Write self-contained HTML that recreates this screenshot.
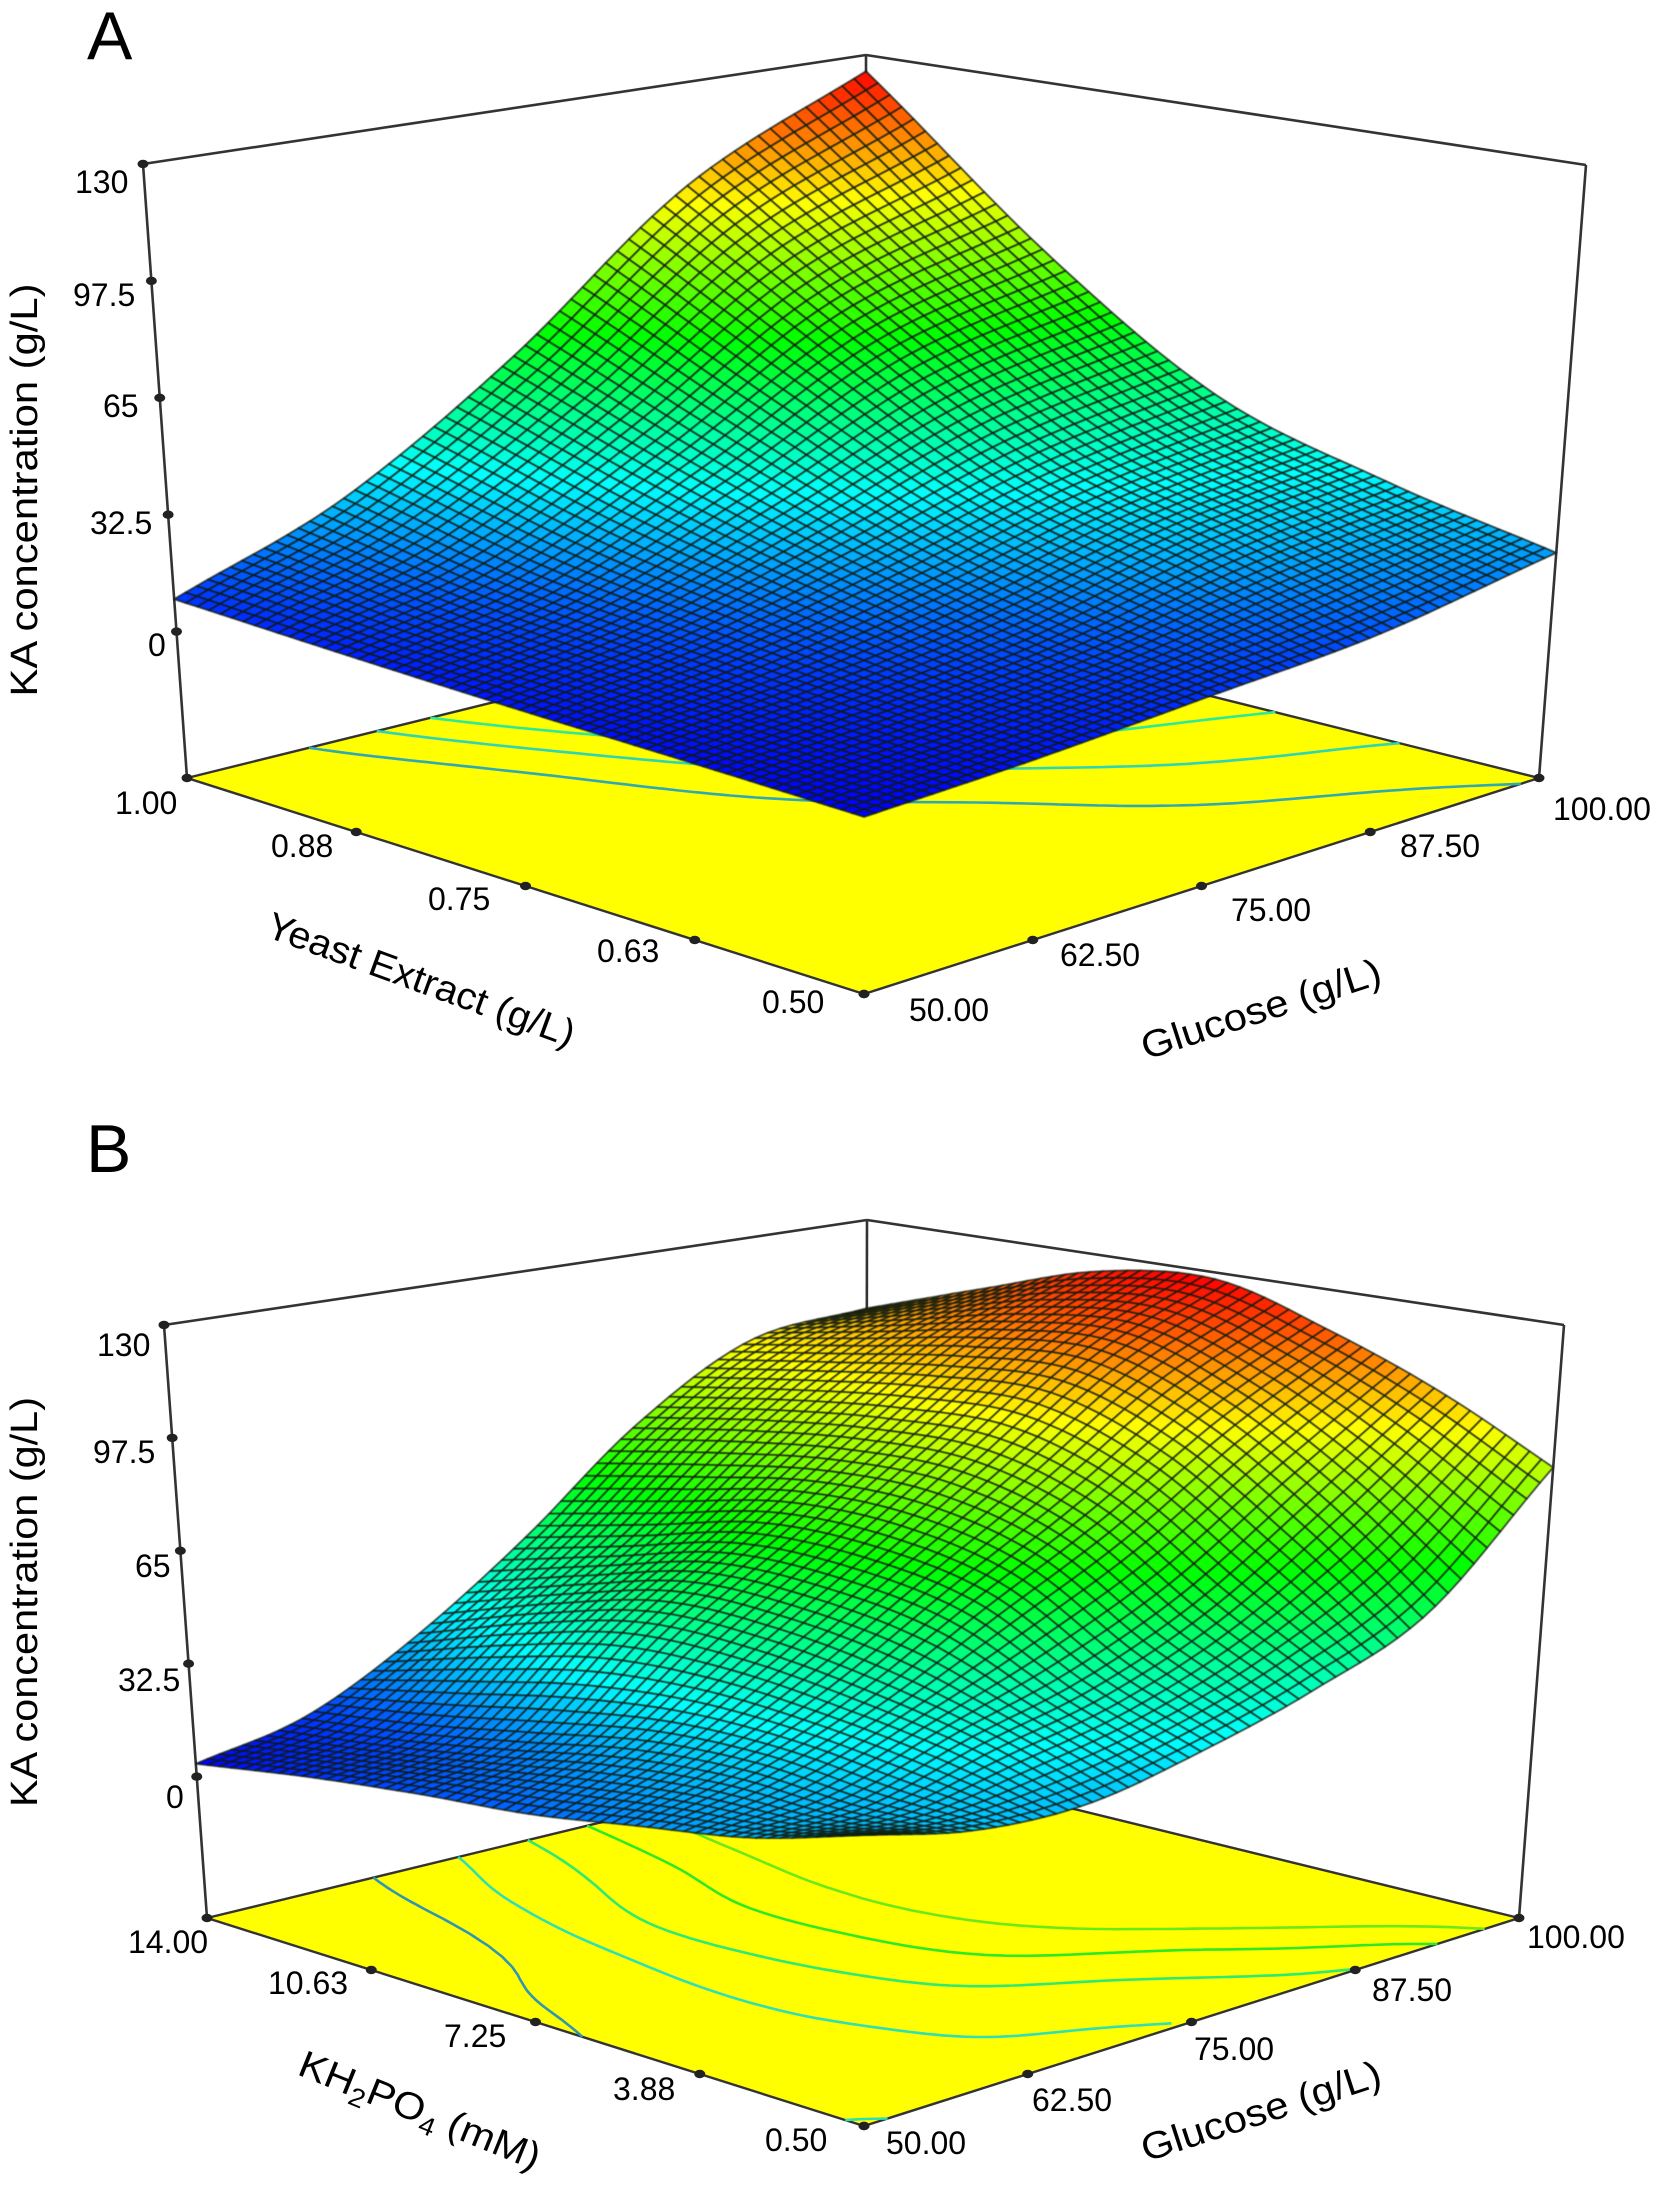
<!DOCTYPE html>
<html lang="en">
<head>
<meta charset="utf-8">
<title>KA concentration response surfaces</title>
<style>
  html, body { margin: 0; padding: 0; background: #fff; }
  svg { display: block; }
  text { font-family: "Liberation Sans", Arial, sans-serif; fill: #000; }
  .tick { font-size: 32px; }
  .title { font-size: 38px; }
  .letter { font-size: 68px; }
</style>
</head>
<body>
<svg id="figure" xmlns="http://www.w3.org/2000/svg" width="1657" height="2198" viewBox="0 0 1657 2198">
  <rect x="0" y="0" width="1657" height="2198" fill="#fff"/>

  <g id="panelA"></g>
  <g id="panelB"></g>

  <g>
    <text class="letter" x="87" y="59">A</text>
    <text class="title" transform="translate(37,490) rotate(-90)" text-anchor="middle" textLength="413" lengthAdjust="spacingAndGlyphs">KA concentration (g/L)</text>
    <text class="title" transform="translate(264,936) rotate(20)" textLength="325" lengthAdjust="spacingAndGlyphs">Yeast Extract (g/L)</text>
    <text class="title" transform="translate(1146,1060) rotate(-18)" textLength="250" lengthAdjust="spacingAndGlyphs">Glucose (g/L)</text>
    <text class="tick" x="75" y="193">130</text>
    <text class="tick" x="73" y="306">97.5</text>
    <text class="tick" x="103" y="417">65</text>
    <text class="tick" x="90" y="534">32.5</text>
    <text class="tick" x="148" y="656">0</text>
    <text class="tick" x="115" y="814">1.00</text>
    <text class="tick" x="271" y="857">0.88</text>
    <text class="tick" x="428" y="910">0.75</text>
    <text class="tick" x="597" y="962">0.63</text>
    <text class="tick" x="762" y="1013">0.50</text>
    <text class="tick" x="909" y="1021">50.00</text>
    <text class="tick" x="1060" y="966">62.50</text>
    <text class="tick" x="1231" y="921">75.00</text>
    <text class="tick" x="1400" y="857">87.50</text>
    <text class="tick" x="1553" y="820">100.00</text>
  </g>

  <g>
    <text class="letter" x="86" y="1172">B</text>
    <text class="title" transform="translate(37,1602) rotate(-90)" text-anchor="middle" textLength="410" lengthAdjust="spacingAndGlyphs">KA concentration (g/L)</text>
    <text class="title" transform="translate(296,2074) rotate(22) scale(1.09,1)">KH<tspan font-size="26" dy="8">2</tspan><tspan dy="-8">PO</tspan><tspan font-size="26" dy="8">4</tspan><tspan dy="-8"> (mM)</tspan></text>
    <text class="title" transform="translate(1146,2162) rotate(-18)" textLength="250" lengthAdjust="spacingAndGlyphs">Glucose (g/L)</text>
    <text class="tick" x="97" y="1356">130</text>
    <text class="tick" x="93" y="1463">97.5</text>
    <text class="tick" x="135" y="1577">65</text>
    <text class="tick" x="118" y="1691">32.5</text>
    <text class="tick" x="166" y="1808">0</text>
    <text class="tick" x="128" y="1953">14.00</text>
    <text class="tick" x="268" y="1994">10.63</text>
    <text class="tick" x="444" y="2047">7.25</text>
    <text class="tick" x="613" y="2100">3.88</text>
    <text class="tick" x="765" y="2151">0.50</text>
    <text class="tick" x="886" y="2154">50.00</text>
    <text class="tick" x="1032" y="2111">62.50</text>
    <text class="tick" x="1194" y="2060">75.00</text>
    <text class="tick" x="1372" y="2001">87.50</text>
    <text class="tick" x="1527" y="1948">100.00</text>
  </g>
</svg>

<script>
// ---- chart data ----
const zTicks = [0, 32.5, 65, 97.5, 130];
const glucoseTicks = [50, 62.5, 75, 87.5, 100];
const yeastTicks = [0.5, 0.625, 0.75, 0.875, 1.0];
const kh2po4Ticks = [0.5, 3.875, 7.25, 10.625, 14];

// Panel A: KA concentration; rows = yeast extract (low to high), columns = glucose (low to high)
const kaYeast050 = [3.3, 5.5, 9, 13, 22];
const kaYeast0625 = [4.5, 8, 14, 25, 32];
const kaYeast075 = [5.5, 12, 24, 38, 47];
const kaYeast0875 = [7, 17, 39, 66, 80];
const kaYeast100 = [9, 27, 58, 99, 125];
const contourLevelsA = [21, 30, 39];

// Panel B: KA concentration; rows = KH2PO4 (low to high), columns = glucose (low to high)
const kaKh050 = [34.5, 28, 27, 33, 42, 56, 89];
const kaKh275 = [26, 27, 36, 44, 58, 80, 105];
const kaKh500 = [21, 29, 42, 60, 78, 100, 118];
const kaKh725 = [16, 27, 46, 66, 88, 112, 128];
const kaKh950 = [13, 21, 46, 66, 88, 110, 125];
const kaKh1175 = [9, 15, 38, 58, 84, 104, 114];
const kaKh1400 = [3.7, 10.5, 27, 50, 78, 98, 102];
const contourLevelsB = [18, 33, 48, 63, 78];

// ---- rendering ----
const SVGNS = 'http://www.w3.org/2000/svg';
const Z_FLOOR = -40.7, Z_TOP = 130;

function colormap(t) {
  t = Math.max(0, Math.min(1, t));
  const stops = [[0, 0, 255], [0, 255, 255], [0, 255, 0], [255, 255, 0], [255, 0, 0]];
  const s = t * 4, i = Math.min(3, Math.floor(s)), f = s - i;
  return stops[i].map(function (c, k) { return c + (stops[i + 1][k] - c) * f; });
}
function rgb(c) { return 'rgb(' + c.map(Math.round).join(',') + ')'; }

function catmull(p0, p1, p2, p3, t) {
  return 0.5 * (2 * p1 + (p2 - p0) * t + (2 * p0 - 5 * p1 + 4 * p2 - p3) * t * t + (3 * p1 - p0 - 3 * p2 + p3) * t * t * t);
}
function sample(grid, u, v) {
  const n = grid.length - 1, m = grid[0].length - 1;
  const fx = Math.min(m - 1e-9, u * m), fy = Math.min(n - 1e-9, v * n);
  const ix = Math.floor(fx), iy = Math.floor(fy);
  const at = function (r, c) {
    const rr = Math.max(0, Math.min(n, r)), cc = Math.max(0, Math.min(m, c));
    // linear extrapolation beyond the border keeps edges from flattening
    let val = grid[rr][cc];
    if (c < 0) val = 2 * grid[rr][0] - grid[rr][1];
    if (c > m) val = 2 * grid[rr][m] - grid[rr][m - 1];
    if (r < 0) val = 2 * grid[0][cc] - grid[1][cc];
    if (r > n) val = 2 * grid[n][cc] - grid[n - 1][cc];
    return val;
  };
  const rows = [];
  for (let r = iy - 1; r <= iy + 2; r++) {
    rows.push(catmull(at(r, ix - 1), at(r, ix), at(r, ix + 1), at(r, ix + 2), fx - ix));
  }
  return catmull(rows[0], rows[1], rows[2], rows[3], fy - iy);
}

function bilinear(c, u, v) {
  const a = (1 - u) * (1 - v), b = u * (1 - v), d = (1 - u) * v, e = u * v;
  return [
    a * c.front[0] + b * c.right[0] + d * c.left[0] + e * c.back[0],
    a * c.front[1] + b * c.right[1] + d * c.left[1] + e * c.back[1]
  ];
}

function drawPanel(root, p) {
  const prefix = p.prefix;
  const project = function (u, v, z) {
    const f = bilinear(p.floor, u, v), t = bilinear(p.top, u, v);
    const h = (z - Z_FLOOR) / (Z_TOP - Z_FLOOR);
    return [f[0] + (t[0] - f[0]) * h, f[1] + (t[1] - f[1]) * h];
  };
  const fmt = function (pt) { return pt[0].toFixed(1) + ',' + pt[1].toFixed(1); };
  const line = function (a, b, name) {
    const el = document.createElementNS(SVGNS, 'line');
    
    
    el.setAttribute('x1', a[0]); el.setAttribute('y1', a[1]);
    el.setAttribute('x2', b[0]); el.setAttribute('y2', b[1]);
    el.setAttribute('stroke', '#333');
    el.setAttribute('stroke-width', '2.6');
    root.appendChild(el);
  };
  const dot = function (pt, name) {
    const el = document.createElementNS(SVGNS, 'ellipse');
    
    
    el.setAttribute('cx', pt[0]); el.setAttribute('cy', pt[1]);
    el.setAttribute('rx', 5.5); el.setAttribute('ry', 4.2);
    el.setAttribute('fill', '#222');
    root.appendChild(el);
  };

  // floor
  const floorPoly = document.createElementNS(SVGNS, 'polygon');
  
  
  floorPoly.setAttribute('points', [p.floor.front, p.floor.right, p.floor.back, p.floor.left].map(fmt).join(' '));
  floorPoly.setAttribute('fill', '#ffff00');
  floorPoly.setAttribute('stroke', '#333');
  floorPoly.setAttribute('stroke-width', '2.4');
  root.appendChild(floorPoly);

  // box
  line(p.top.left, p.top.back, prefix + '-box-top-left-edge');
  line(p.top.back, p.top.right, prefix + '-box-top-right-edge');
  line(p.top.back, p.floor.back, prefix + '-box-back-edge');
  line(p.top.left, p.floor.left, prefix + '-z-axis');
  line(p.top.right, p.floor.right, prefix + '-box-right-edge');

  // data extents and axis functions
  const flat = p.grid.reduce(function (a, r) { return a.concat(r); }, []);
  const zMin = Math.min.apply(null, flat), zMax = Math.max.apply(null, flat);
  const colorOf = function (z) { return colormap((z - zMin) / (zMax - zMin)); };
  const uOf = function (g) { return (g - p.uRange[0]) / (p.uRange[1] - p.uRange[0]); };
  const vOf = function (y) { return (y - p.vRange[0]) / (p.vRange[1] - p.vRange[0]); };

  // fine evaluation of the surface
  const N = p.cells;
  const Z = [];
  for (let j = 0; j <= N; j++) {
    const row = [];
    for (let i = 0; i <= N; i++) row.push(sample(p.grid, i / N, j / N));
    Z.push(row);
  }

  // contours on the floor
  p.levels.forEach(function (level) {
    let d = '';
    for (let j = 0; j < N; j++) {
      for (let i = 0; i < N; i++) {
        const a = Z[j][i], b = Z[j][i + 1], c = Z[j + 1][i + 1], e = Z[j + 1][i];
        const pts = [];
        if ((a - level) * (b - level) < 0) pts.push([(i + (level - a) / (b - a)) / N, j / N]);
        if ((b - level) * (c - level) < 0) pts.push([(i + 1) / N, (j + (level - b) / (c - b)) / N]);
        if ((e - level) * (c - level) < 0) pts.push([(i + (level - e) / (c - e)) / N, (j + 1) / N]);
        if ((a - level) * (e - level) < 0) pts.push([i / N, (j + (level - a) / (e - a)) / N]);
        for (let k = 0; k + 1 < pts.length; k += 2) {
          d += 'M' + fmt(bilinear(p.floor, pts[k][0], pts[k][1])) + 'L' + fmt(bilinear(p.floor, pts[k + 1][0], pts[k + 1][1]));
        }
      }
    }
    const base = colorOf(level);
    const mixed = [base[0] * 0.6 + 120 * 0.4, base[1] * 0.6 + 200 * 0.4, base[2] * 0.6 + 60 * 0.4];
    const path = document.createElementNS(SVGNS, 'path');
    
    
    path.setAttribute('d', d);
    path.setAttribute('fill', 'none');
    path.setAttribute('stroke', rgb(mixed));
    path.setAttribute('stroke-width', '2.6');
    root.appendChild(path);
  });

  // tick dots
  zTicks.forEach(function (z) {
    dot(project(0, 1, z), prefix + '-z-tick-mark');
  });
  p.vTicks.forEach(function (y) {
    dot(bilinear(p.floor, 0, vOf(y)), prefix + '-factor-tick-mark');
  });
  glucoseTicks.forEach(function (g) {
    dot(bilinear(p.floor, uOf(g), 0), prefix + '-glucose-tick-mark');
  });

  // surface mesh, painted far to near
  const surf = document.createElementNS(SVGNS, 'g');
  
  
  surf.setAttribute('stroke', p.meshColor);
  surf.setAttribute('stroke-width', p.meshWidth);
  surf.setAttribute('stroke-linejoin', 'round');
  surf.style.filter = 'blur(0.45px)';
  for (let j = N - 1; j >= 0; j--) {
    for (let i = N - 1; i >= 0; i--) {
      const u0 = i / N, u1 = (i + 1) / N, v0 = j / N, v1 = (j + 1) / N;
      const zs = [Z[j][i], Z[j][i + 1], Z[j + 1][i + 1], Z[j + 1][i]];
      const poly = document.createElementNS(SVGNS, 'polygon');
      
      
      poly.setAttribute('points', [
        project(u0, v0, zs[0]), project(u1, v0, zs[1]), project(u1, v1, zs[2]), project(u0, v1, zs[3])
      ].map(fmt).join(' '));
      poly.setAttribute('fill', rgb(colorOf((zs[0] + zs[1] + zs[2] + zs[3]) / 4)));
      surf.appendChild(poly);
    }
  }
  root.appendChild(surf);
}

drawPanel(document.getElementById('panelA'), {
  prefix: 'panel-a',
  floor: { front: [864, 994], left: [187, 778], right: [1539, 778], back: [866, 610] },
  top: { front: [864, 307], left: [143, 164], right: [1586, 165], back: [866, 55] },
  grid: [kaYeast050, kaYeast0625, kaYeast075, kaYeast0875, kaYeast100],
  levels: contourLevelsA,
  uRange: [50, 100],
  vRange: [0.5, 1.0],
  vTicks: yeastTicks,
  cells: 60,
  meshColor: 'rgba(15,25,15,0.8)',
  meshWidth: 1.8
});

drawPanel(document.getElementById('panelB'), {
  prefix: 'panel-b',
  floor: { front: [864, 2126], left: [207, 1918], right: [1519, 1918], back: [866, 1758] },
  top: { front: [864, 1466], left: [164, 1325], right: [1564, 1325], back: [867, 1220] },
  grid: [kaKh050, kaKh275, kaKh500, kaKh725, kaKh950, kaKh1175, kaKh1400],
  levels: contourLevelsB,
  uRange: [50, 100],
  vRange: [0.5, 14],
  vTicks: kh2po4Ticks,
  cells: 56,
  meshColor: 'rgba(15,25,15,0.8)',
  meshWidth: 1.7
});
</script>
</body>
</html>
